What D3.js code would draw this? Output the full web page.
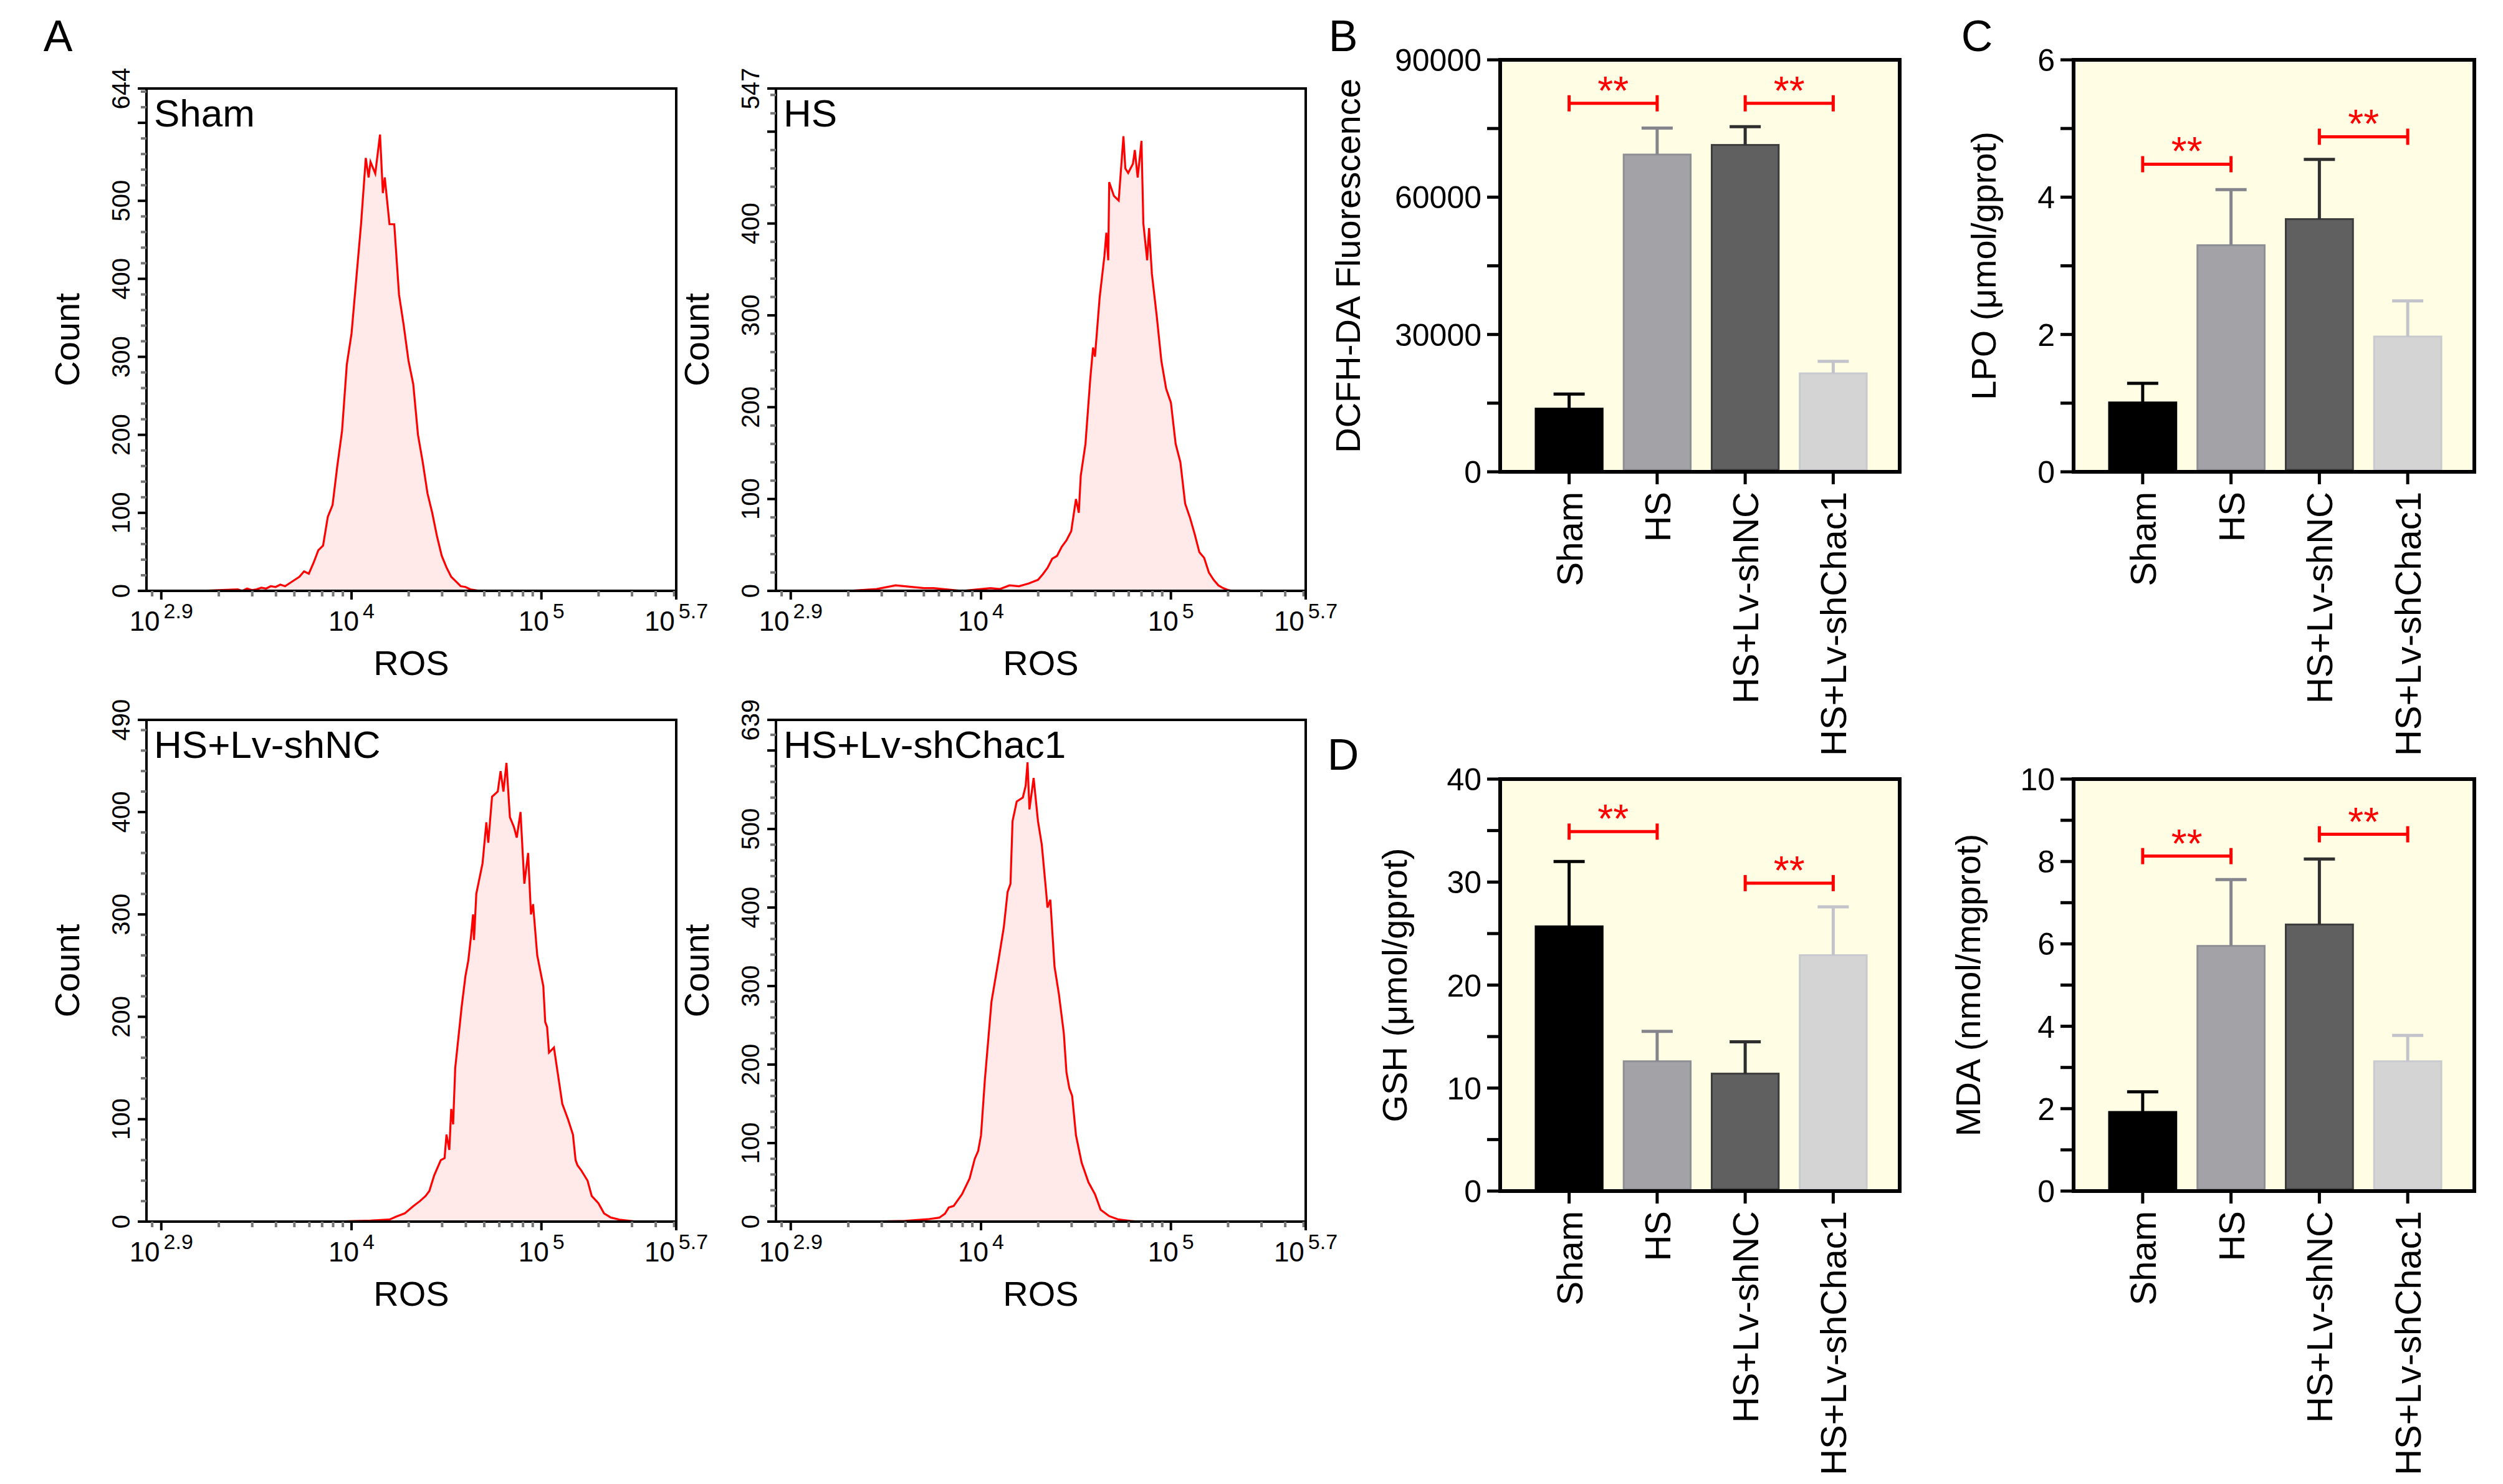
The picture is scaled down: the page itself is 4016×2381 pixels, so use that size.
<!DOCTYPE html>
<html><head><meta charset="utf-8">
<script src="https://cdn.jsdelivr.net/npm/d3@7"></script>
<style>body{margin:0;background:#fff}text{font-family:"Liberation Sans",Arial,sans-serif}</style>
</head><body><svg id="c" width="4016" height="2381"></svg>
<script>
// ---------- DATA ----------
const groups = ["Sham","HS","HS+Lv-shNC","HS+Lv-shChac1"];
// flow histograms: [log10(ROS), count]
const histSham = [[2.93,0],[3.2,0],[3.4,2],[3.425,0],[3.45,3],[3.475,1],[3.5,2],[3.525,4],[3.55,3],[3.575,6],[3.6,5],[3.625,8],[3.65,6],[3.675,10],[3.7,14],[3.725,18],[3.75,25],[3.775,22],[3.8,36],[3.825,52],[3.85,58],[3.875,95],[3.9,110],[3.925,160],[3.95,205],[3.975,290],[4.0,330],[4.025,400],[4.05,470],[4.075,555],[4.09,530],[4.1,550],[4.125,535],[4.15,585],[4.165,510],[4.175,530],[4.2,470],[4.225,470],[4.25,380],[4.275,340],[4.3,295],[4.325,265],[4.35,200],[4.375,165],[4.4,125],[4.425,100],[4.45,70],[4.475,45],[4.5,30],[4.525,18],[4.55,12],[4.575,6],[4.6,5],[4.625,2],[4.65,1],[4.675,0],[5.0,0],[5.7,0]];
const histHS = [[2.93,0],[3.3,0],[3.45,2],[3.5,4],[3.55,6],[3.6,5],[3.65,4],[3.7,3],[3.75,3],[3.8,2],[3.85,1],[3.9,0],[3.95,1],[4.0,2],[4.05,3],[4.1,2],[4.15,6],[4.2,5],[4.25,8],[4.3,12],[4.325,18],[4.35,25],[4.375,35],[4.4,38],[4.425,48],[4.45,55],[4.475,65],[4.5,100],[4.515,85],[4.525,125],[4.55,160],[4.575,230],[4.59,265],[4.6,255],[4.625,320],[4.65,365],[4.66,390],[4.67,360],[4.675,445],[4.7,430],[4.725,425],[4.75,495],[4.76,460],[4.775,455],[4.8,465],[4.81,480],[4.825,450],[4.845,490],[4.855,400],[4.875,360],[4.885,395],[4.9,345],[4.925,300],[4.95,250],[4.975,220],[5.0,205],[5.025,160],[5.05,140],[5.075,95],[5.1,80],[5.125,62],[5.15,42],[5.175,36],[5.2,20],[5.225,12],[5.25,6],[5.275,3],[5.3,1],[5.325,0],[5.7,0]];
const histShNC = [[2.93,0],[3.9,0],[4.1,1],[4.2,2],[4.237,5],[4.28,8],[4.325,15],[4.36,20],[4.39,25],[4.41,30],[4.435,45],[4.47,60],[4.49,62],[4.5,85],[4.515,70],[4.525,110],[4.535,95],[4.546,150],[4.58,210],[4.6,240],[4.615,255],[4.63,280],[4.64,300],[4.645,275],[4.657,320],[4.69,350],[4.71,390],[4.72,370],[4.74,415],[4.77,420],[4.785,440],[4.8,420],[4.816,448],[4.834,395],[4.856,385],[4.87,375],[4.89,400],[4.91,330],[4.93,360],[4.945,300],[4.956,310],[4.978,260],[5.01,230],[5.02,195],[5.03,190],[5.04,165],[5.066,170],[5.09,140],[5.11,115],[5.14,100],[5.166,85],[5.18,60],[5.19,55],[5.21,50],[5.243,40],[5.265,25],[5.3,18],[5.33,8],[5.365,4],[5.41,2],[5.5,0],[5.7,0]];
const histShChac1 = [[2.93,0],[3.4,0],[3.6,1],[3.72,3],[3.78,5],[3.81,10],[3.83,18],[3.856,20],[3.9,35],[3.94,55],[3.967,80],[3.985,90],[4.0,110],[4.02,180],[4.055,280],[4.09,330],[4.12,375],[4.14,420],[4.155,430],[4.166,510],[4.188,535],[4.22,540],[4.235,555],[4.245,585],[4.255,525],[4.277,565],[4.3,510],[4.32,480],[4.343,420],[4.35,400],[4.365,410],[4.387,325],[4.41,290],[4.436,240],[4.45,190],[4.465,170],[4.48,160],[4.5,110],[4.53,75],[4.566,50],[4.6,35],[4.63,15],[4.675,7],[4.72,3],[4.785,1],[4.83,0],[5.7,0]];
const histTitles = ["Sham","HS","HS+Lv-shNC","HS+Lv-shChac1"];
const histMax = [644,547,490,639];
const histYTicks = [[0,100,200,300,400,500],[0,100,200,300,400],[0,100,200,300,400],[0,100,200,300,400,500]];
const xTickLabels = ["2.9","4","5","5.7"];
const xTickExp = [2.998,4,5,5.71];   // axis position of each labelled tick

// bar panels
const dcfhMean = [13800,69300,71400,21500];
const dcfhErr  = [17000,75100,75400,24150];
const lpoMean = [1.01,3.3,3.68,1.97];
const lpoErr  = [1.29,4.11,4.55,2.49];
const gshMean = [25.7,12.6,11.4,22.9];
const gshErr  = [32.0,15.5,14.5,27.6];
const mdaMean = [1.92,5.95,6.47,3.15];
const mdaErr  = [2.41,7.56,8.06,3.78];
const dcfhTicks = [0,30000,60000,90000];
const lpoTicks = [0,2,4,6];
const gshTicks = [0,10,20,30,40];
const mdaTicks = [0,2,4,6,8,10];
const dcfhSig = [[0,1,80500],[2,3,80500]];
const lpoSig = [[0,1,4.48],[2,3,4.88]];
const gshSig = [[0,1,34.9],[2,3,29.9]];
const mdaSig = [[0,1,8.13],[2,3,8.66]];

// ---------- DRAW ----------
const svg = d3.select("#c");

function hist(x0,y0,w,h,title,ymax,yticks,data){
  const g = svg.append("g");
  const x = d3.scaleLog().domain([Math.pow(10,2.92),Math.pow(10,5.71)]).range([x0,x0+w]);
  const y = d3.scaleLinear().domain([0,ymax]).range([y0+h,y0]);
  const pts = data.map(d=>[Math.pow(10,d[0]),d[1]]);
  g.append("path").datum(pts).attr("fill","#ffe9e9")
    .attr("d",d3.area().x(d=>x(d[0])).y0(y(0)).y1(d=>y(d[1])));
  g.append("path").datum(pts).attr("fill","none").attr("stroke","#ff0000").attr("stroke-width",3.2)
    .attr("d",d3.line().x(d=>x(d[0])).y(d=>y(d[1])));
  g.append("rect").attr("x",x0).attr("y",y0).attr("width",w).attr("height",h)
    .attr("fill","none").attr("stroke","#000").attr("stroke-width",4);
  const minor = d3.range(20,ymax,20).filter(v=>v%100!==0);
  g.selectAll(null).data(minor).enter().append("line")
    .attr("x1",x0-9).attr("x2",x0).attr("y1",d=>y(d)).attr("y2",d=>y(d))
    .attr("stroke","#777").attr("stroke-width",4);
  const major = d3.range(0,ymax,100).concat([ymax]);
  g.selectAll(null).data(major).enter().append("line")
    .attr("x1",x0-14).attr("x2",x0).attr("y1",d=>y(d)).attr("y2",d=>y(d))
    .attr("stroke","#000").attr("stroke-width",4);
  g.selectAll(null).data(yticks.concat([ymax])).enter().append("text")
    .attr("transform",d=>`translate(${x0-27},${y(d)}) rotate(-90)`)
    .attr("text-anchor","middle").attr("font-size",40).text(d=>d);
  const xmin = [];
  for(let e=3;e<=5;e++) for(let m=2;m<=9;m++){ const v=m*Math.pow(10,e); if(v<Math.pow(10,5.7)) xmin.push(v);}
  xmin.push(Math.pow(10,2.95));
  g.selectAll(null).data(xmin).enter().append("line")
    .attr("x1",d=>x(d)).attr("x2",d=>x(d)).attr("y1",y0+h).attr("y2",y0+h+9)
    .attr("stroke","#777").attr("stroke-width",4);
  g.selectAll(null).data(xTickExp).enter().append("line")
    .attr("x1",d=>x(Math.pow(10,d))).attr("x2",d=>x(Math.pow(10,d))).attr("y1",y0+h).attr("y2",y0+h+14)
    .attr("stroke","#000").attr("stroke-width",4);
  xTickExp.forEach((e,i)=>{
    const t = g.append("text").attr("x",x(Math.pow(10,e))).attr("y",y0+h+64)
      .attr("text-anchor","middle").attr("font-size",44);
    t.append("tspan").text("10");
    t.append("tspan").attr("dx",6).attr("dy",-20).attr("font-size",34).text(xTickLabels[i]);
  });
  g.append("text").attr("x",x0+w/2).attr("y",y0+h+135).attr("text-anchor","middle").attr("font-size",56).text("ROS");
  g.append("text").attr("transform",`translate(${x0-108},${y0+h/2}) rotate(-90)`)
    .attr("text-anchor","middle").attr("font-size",56).text("Count");
  g.append("text").attr("x",x0+12).attr("y",y0+61).attr("font-size",62).text(title);
}

const hp = [[235,142,850,806],[1245,142,850,806],[235,1155,850,805],[1245,1155,850,805]];
const hd = [histSham,histHS,histShNC,histShChac1];
hp.forEach((p,i)=>hist(p[0],p[1],p[2],p[3],histTitles[i],histMax[i],histYTicks[i],hd[i]));

const barFill = ["#000000","#a2a2a7","#606060","#d4d4d4"];
const barStroke = ["#000000","#8e8e95","#3c3c3c","#c9c9d0"];
const errCol = ["#000000","#85858d","#2f2f2f","#c3c3cb"];

function bars(x0,y0,w,h,ymax,ticks,mean,err,sig,title,titleOff){
  const g = svg.append("g");
  const x = d3.scaleBand().domain(groups).range([x0+40,x0+w-36]).paddingInner(0.24).paddingOuter(0.12);
  const y = d3.scaleLinear().domain([0,ymax]).range([y0+h,y0]);
  g.append("rect").attr("x",x0).attr("y",y0).attr("width",w).attr("height",h).attr("fill","#fffee4");
  groups.forEach((c,i)=>{
    g.append("rect").attr("x",x(c)).attr("y",y(mean[i])).attr("width",x.bandwidth())
      .attr("height",y(0)-y(mean[i])-3).attr("fill",barFill[i]).attr("stroke",barStroke[i]).attr("stroke-width",3);
    const cx = x(c)+x.bandwidth()/2;
    g.append("line").attr("x1",cx).attr("x2",cx).attr("y1",y(mean[i])).attr("y2",y(err[i]))
      .attr("stroke",errCol[i]).attr("stroke-width",5);
    g.append("line").attr("x1",cx-25).attr("x2",cx+25).attr("y1",y(err[i])).attr("y2",y(err[i]))
      .attr("stroke",errCol[i]).attr("stroke-width",5);
  });
  sig.forEach(s=>{
    const a = x(groups[s[0]])+x.bandwidth()/2, b = x(groups[s[1]])+x.bandwidth()/2, yy = y(s[2]);
    g.append("line").attr("x1",a).attr("x2",b).attr("y1",yy).attr("y2",yy).attr("stroke","#ff0000").attr("stroke-width",5);
    [a,b].forEach(v=>g.append("line").attr("x1",v).attr("x2",v).attr("y1",yy-13).attr("y2",yy+13).attr("stroke","#ff0000").attr("stroke-width",5));
    g.append("text").attr("x",(a+b)/2).attr("y",yy+2).attr("text-anchor","middle").attr("font-size",64)
      .attr("fill","#ff0000").text("**");
  });
  g.append("rect").attr("x",x0).attr("y",y0).attr("width",w).attr("height",h)
    .attr("fill","none").attr("stroke","#000").attr("stroke-width",6);
  const step = ticks[1]-ticks[0];
  const all = d3.range(0,ymax+step/4,step/2);
  g.selectAll(null).data(all).enter().append("line")
    .attr("x1",x0-21).attr("x2",x0).attr("y1",d=>y(d)).attr("y2",d=>y(d)).attr("stroke","#000").attr("stroke-width",5);
  g.selectAll(null).data(ticks).enter().append("text")
    .attr("x",x0-30).attr("y",d=>y(d)).attr("dy","0.36em").attr("text-anchor","end").attr("font-size",50).text(d=>d);
  groups.forEach(c=>{
    const cx = x(c)+x.bandwidth()/2;
    g.append("line").attr("x1",cx).attr("x2",cx).attr("y1",y0+h).attr("y2",y0+h+20).attr("stroke","#000").attr("stroke-width",5);
    g.append("text").attr("transform",`translate(${cx},${y0+h+32}) rotate(-90)`).attr("dy","0.36em")
      .attr("text-anchor","end").attr("font-size",58).text(c);
  });
  g.append("text").attr("transform",`translate(${x0-titleOff},${y0+h/2}) rotate(-90)`)
    .attr("text-anchor","middle").attr("font-size",56).text(title);
}
bars(2407,96,641,661,90000,dcfhTicks,dcfhMean,dcfhErr,dcfhSig,"DCFH-DA Fluorescence",225);
bars(3327,96,643,661,6,lpoTicks,lpoMean,lpoErr,lpoSig,"LPO (μmol/gprot)",125);
bars(2407,1250,641,661,40,gshTicks,gshMean,gshErr,gshSig,"GSH (μmol/gprot)",150);
bars(3327,1250,643,661,10,mdaTicks,mdaMean,mdaErr,mdaSig,"MDA (nmol/mgprot)",150);

[["A",93,82],["B",2155,82],["C",3172,82],["D",2155,1235]].forEach(l=>
  svg.append("text").attr("x",l[1]).attr("y",l[2]).attr("text-anchor","middle").attr("font-size",70).text(l[0]));
</script></body></html>
